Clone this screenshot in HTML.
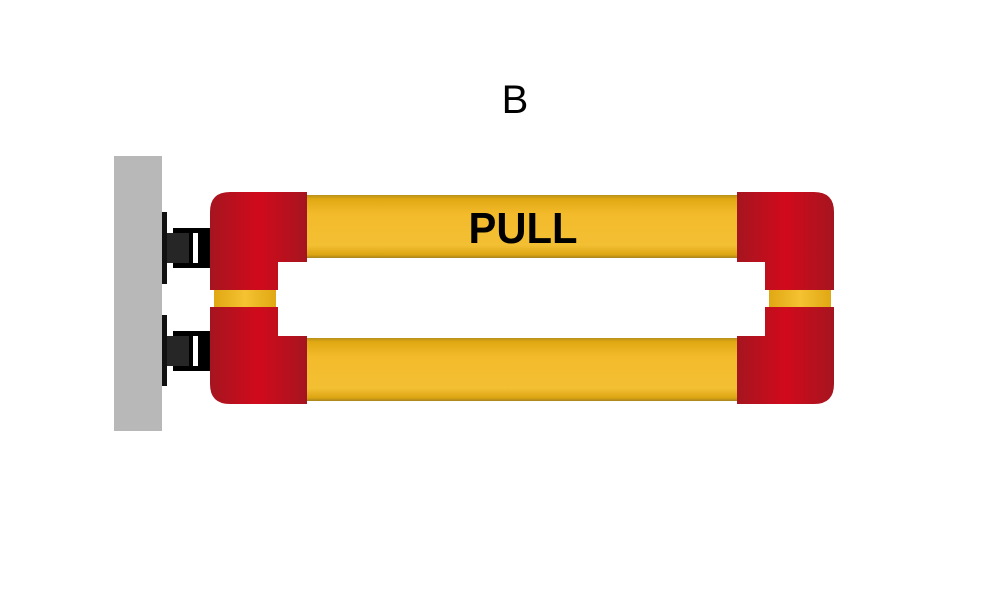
<!DOCTYPE html>
<html><head><meta charset="utf-8"><style>html,body{margin:0;padding:0;background:#fff;}svg{display:block}</style></head>
<body>
<svg width="1000" height="608" viewBox="0 0 1000 608" xmlns="http://www.w3.org/2000/svg">
<defs>
<linearGradient id="yv" x1="0" y1="0" x2="0" y2="1">
<stop offset="0" stop-color="#b8901a"/><stop offset="0.06" stop-color="#e0a812"/><stop offset="0.3" stop-color="#f3bb2c"/><stop offset="0.8" stop-color="#f3bf33"/><stop offset="0.95" stop-color="#dba412"/><stop offset="1" stop-color="#a8841e"/>
</linearGradient>
<linearGradient id="yh" x1="0" y1="0" x2="1" y2="0">
<stop offset="0" stop-color="#e0a812"/><stop offset="0.5" stop-color="#f5c232"/><stop offset="1" stop-color="#e0a812"/>
</linearGradient>
<linearGradient id="rh" x1="0" y1="0" x2="1" y2="0">
<stop offset="0" stop-color="#a5151f"/><stop offset="0.5" stop-color="#d10a1c"/><stop offset="1" stop-color="#a5151f"/>
</linearGradient>
</defs>
<text x="515" y="113" font-family="Liberation Sans, sans-serif" font-size="40" text-anchor="middle" fill="#000">B</text>
<rect x="114" y="156" width="48" height="275" fill="#b8b8b8"/>
<rect x="162" y="212" width="5" height="72" fill="#111"/>
<rect x="162" y="315" width="5" height="71" fill="#111"/>
<rect x="173" y="228" width="37" height="40" fill="#000"/>
<rect x="167" y="233" width="22" height="30" fill="#262626"/>
<rect x="193" y="233" width="5" height="30" fill="#fff"/>
<rect x="173" y="331" width="37" height="40" fill="#000"/>
<rect x="167" y="336" width="22" height="30" fill="#262626"/>
<rect x="193" y="336" width="5" height="30" fill="#fff"/>
<rect x="300" y="195" width="445" height="63" fill="url(#yv)"/>
<rect x="300" y="338" width="445" height="63" fill="url(#yv)"/>
<rect x="214" y="288" width="62" height="21" fill="url(#yh)"/>
<rect x="769" y="288" width="62" height="21" fill="url(#yh)"/>
<path d="M230 192 H307 V262 H278 V290 H210 V212 Q210 192 230 192Z" fill="url(#rh)"/>
<path d="M210 307 H278 V336 H307 V404 H230 Q210 404 210 384Z" fill="url(#rh)"/>
<path d="M737 192 H814 Q834 192 834 212 V290 H765 V262 H737Z" fill="url(#rh)"/>
<path d="M765 307 H834 V384 Q834 404 814 404 H737 V336 H765Z" fill="url(#rh)"/>
<text x="523" y="243" font-family="Liberation Sans, sans-serif" font-weight="bold" font-size="44" text-anchor="middle" textLength="109" lengthAdjust="spacingAndGlyphs" fill="#000">PULL</text>
</svg>
</body></html>
